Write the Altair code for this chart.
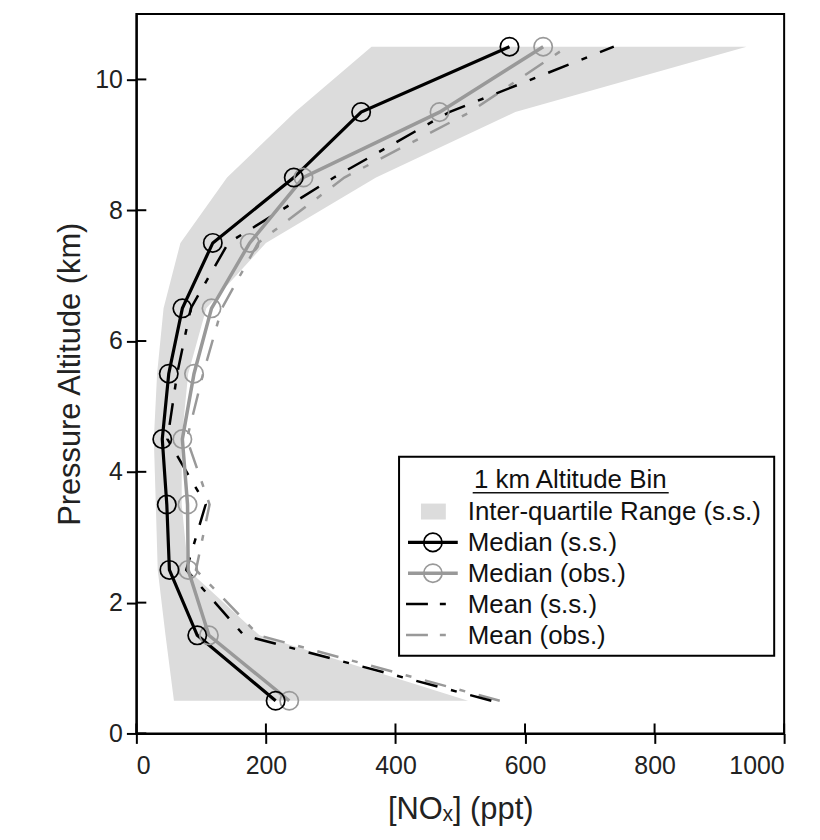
import altair as alt
import pandas as pd

# ---------------- data ----------------
altitude = [0.5, 1.5, 2.5, 3.5, 4.5, 5.5, 6.5, 7.5, 8.5, 9.5, 10.5]
median_ss = [215, 94, 51, 47, 40, 50, 71, 118, 243, 347, 576]
median_obs = [236, 112, 80, 79, 71, 89, 116, 175, 258, 468, 628]
mean_ss = [548, 166, 77, 107, 48, 63, 84, 142, 305, 483, 737]
mean_obs = [561, 189, 92, 113, 78, 103, 132, 188, 321, 515, 665]
iqr_low = [58, 45, 33, 30, 27, 32, 42, 68, 140, 245, 363]
iqr_high = [512, 190, 80, 70, 70, 80, 108, 200, 370, 585, 942]

x_ticks = [0, 200, 400, 600, 800, 1000]
y_ticks = [0, 2, 4, 6, 8, 10]

legend_title = "1 km Altitude Bin"
legend_labels = ["Inter-quartile Range (s.s.)", "Median (s.s.)", "Median (obs.)",
                 "Mean (s.s.)", "Mean (obs.)"]

x_title = "[NOₓ] (ppt)"
y_title = "Pressure Altitude (km)"

# ---------------- styling / layout ----------------
W, H = 651, 723
FONT = "Liberation Sans"
BLACK = "#000000"
GRAY = "#999999"
SHADE = "#dcdcdc"
DASH = [22, 14, 6, 14]
CIRCLE = 340

df = pd.DataFrame({
    "alt": altitude, "med_ss": median_ss, "med_obs": median_obs,
    "mean_ss": mean_ss, "mean_obs": mean_obs, "lo": iqr_low, "hi": iqr_high,
})

xs = alt.Scale(domain=[0, 1000], nice=False, zero=False)
ys = alt.Scale(domain=[0, 11], nice=False, zero=False)

base = alt.Chart(df)

area = base.mark_area(color=SHADE, orient="horizontal").encode(
    y=alt.Y("alt:Q", scale=ys, axis=None),
    x=alt.X("lo:Q", scale=xs, axis=None),
    x2="hi:Q",
)

axes = base.mark_point(opacity=0).encode(
    y=alt.Y("alt:Q", scale=ys, axis=alt.Axis(
        values=y_ticks, format="d", title=y_title, titleX=-66, titleY=H / 2,
        titleAngle=270, titleBaseline="middle", labelPadding=4)),
    x=alt.X("med_ss:Q", scale=xs, axis=alt.Axis(
        values=x_ticks, format="d", title=x_title, titleY=76,
        titleBaseline="middle", labelPadding=10)),
)


def line(field, color, width, dash=None):
    kw = dict(color=color, strokeWidth=width)
    if dash:
        kw["strokeDash"] = dash
    return base.mark_line(**kw).encode(
        x=alt.X(f"{field}:Q", scale=xs, axis=None),
        y=alt.Y("alt:Q", scale=ys, axis=None),
        order="alt:Q",
    )


def pts(field, color):
    return base.mark_point(shape="circle", filled=False, size=CIRCLE,
                           color=color, strokeWidth=1.7, opacity=1).encode(
        x=alt.X(f"{field}:Q", scale=xs, axis=None),
        y=alt.Y("alt:Q", scale=ys, axis=None),
    )


mean_obs_l = line("mean_obs", GRAY, 2.5, DASH)
mean_ss_l = line("mean_ss", BLACK, 2.5, DASH)
med_obs_l = line("med_obs", GRAY, 3.5)
med_ss_l = line("med_ss", BLACK, 3.2)
med_obs_p = pts("med_obs", GRAY)
med_ss_p = pts("med_ss", BLACK)

# inner halves of the crossing ticks
xt = alt.Chart(pd.DataFrame({"v": x_ticks})).mark_rule(color=BLACK, strokeWidth=2).encode(
    x=alt.X("v:Q", scale=xs, axis=None), y=alt.value(H), y2=alt.value(H - 10))
yt = alt.Chart(pd.DataFrame({"v": y_ticks})).mark_rule(color=BLACK, strokeWidth=2).encode(
    y=alt.Y("v:Q", scale=ys, axis=None), x=alt.value(0), x2=alt.value(10))

# ---------------- manual legend ----------------
one = alt.Data(values=[{"k": 1}])
LX0, LX1, LY0, LY1 = 264, 641, 445, 645
ROW0, ROWSTEP = 500, 31
TX = 333
SX0, SX1 = 273, 323
rows = [ROW0 + ROWSTEP * i for i in range(len(legend_labels))]

leg = [
    alt.Chart(one).mark_rect(fill="white", stroke=BLACK, strokeWidth=2).encode(
        x=alt.value(LX0), x2=alt.value(LX1), y=alt.value(LY0), y2=alt.value(LY1)),
    alt.Chart(one).mark_text(text=legend_title, font=FONT, fontSize=26, color="#111",
                             align="center", baseline="alphabetic").encode(
        x=alt.value(436), y=alt.value(476)),
    alt.Chart(one).mark_rule(color="#111", strokeWidth=1.5).encode(
        x=alt.value(338), x2=alt.value(535), y=alt.value(481)),
    alt.Chart(one).mark_rect(fill=SHADE).encode(
        x=alt.value(286), x2=alt.value(311), y=alt.value(rows[0] - 8), y2=alt.value(rows[0] + 8)),
    alt.Chart(one).mark_rule(color=BLACK, strokeWidth=3.2).encode(
        x=alt.value(SX0), x2=alt.value(SX1), y=alt.value(rows[1])),
    alt.Chart(one).mark_point(shape="circle", filled=False, size=CIRCLE, color=BLACK,
                              strokeWidth=1.7, opacity=1).encode(
        x=alt.value((SX0 + SX1) / 2), y=alt.value(rows[1])),
    alt.Chart(one).mark_rule(color=GRAY, strokeWidth=3.5).encode(
        x=alt.value(SX0), x2=alt.value(SX1), y=alt.value(rows[2])),
    alt.Chart(one).mark_point(shape="circle", filled=False, size=CIRCLE, color=GRAY,
                              strokeWidth=1.7, opacity=1).encode(
        x=alt.value((SX0 + SX1) / 2), y=alt.value(rows[2])),
    alt.Chart(one).mark_rule(color=BLACK, strokeWidth=2.5, strokeDash=[22, 12, 6, 30]).encode(
        x=alt.value(271), x2=alt.value(311), y=alt.value(rows[3])),
    alt.Chart(one).mark_rule(color=GRAY, strokeWidth=2.5, strokeDash=[22, 12, 6, 30]).encode(
        x=alt.value(271), x2=alt.value(311), y=alt.value(rows[4])),
]
for lab, ry in zip(legend_labels, rows):
    leg.append(alt.Chart(one).mark_text(text=lab, font=FONT, fontSize=26, color="#111",
                                        align="left", baseline="middle").encode(
        x=alt.value(TX), y=alt.value(ry + 1)))

chart = alt.layer(
    area, axes, mean_obs_l, mean_ss_l, med_obs_l, med_ss_l, med_obs_p, med_ss_p, xt, yt, *leg
).resolve_axis(
    x="independent", y="independent",
).properties(
    width=W, height=H,
    autosize=alt.AutoSizeParams(type="none"),
    padding={"left": 129, "top": 4, "right": 28, "bottom": 96},
).configure_view(
    stroke=BLACK, strokeWidth=2,
).configure_axis(
    domainColor=BLACK, domainWidth=2, tickColor=BLACK, tickWidth=2, tickSize=10,
    labelFont=FONT, labelFontSize=25, labelColor="#222",
    titleFont=FONT, titleFontSize=31, titleFontWeight="normal", titleColor="#222",
    grid=False,
)

chart.save("out.html", embed_options={"renderer": "svg", "actions": False})
